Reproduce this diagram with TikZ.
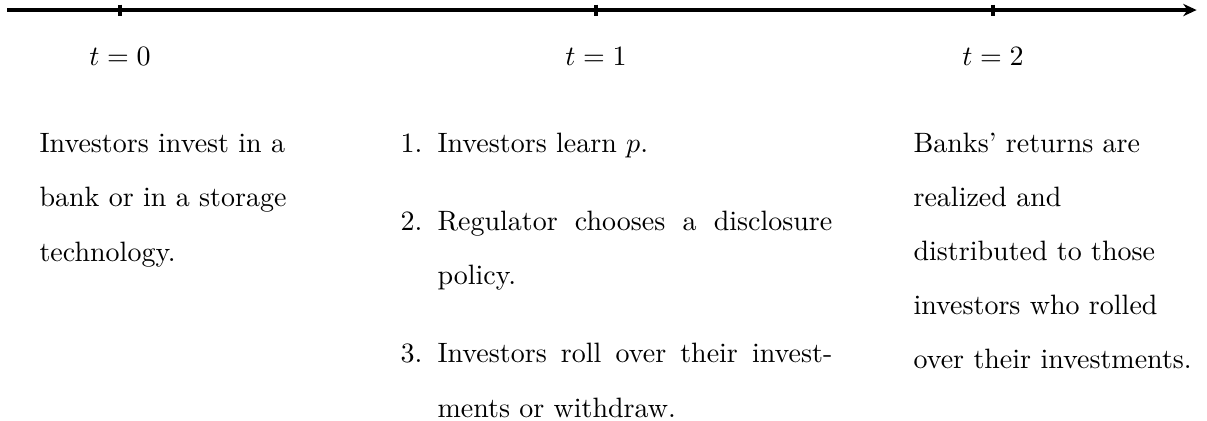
\documentclass[tikz,border=0pt]{standalone}
\usetikzlibrary{arrows.meta,positioning}
\begin{document}
\begin{tikzpicture}[every node/.style={inner sep=0pt},
  txt/.style={anchor=base west,text width=#1,align=flush left,font=\linespread{1.608}\selectfont},
  itm/.style={anchor=base west,text width=141pt,align=justify,font=\linespread{1.608}\selectfont}]
\useasboundingbox (0,0) rectangle (15.15,-5.284);
% time axis with three dates
\coordinate (start) at (0.088,-0.126);
\coordinate (end) at (15.02,-0.126);
\draw[very thick,-{Stealth[length=4.8pt,width=4.4pt]}] (start) -- (end);
\foreach \x/\n in {1.506/0,7.481/1,12.464/2} {\coordinate (t\n) at (\x,-0.126); \draw[very thick] ([yshift=0.069cm]t\n) -- ([yshift=-0.069cm]t\n);
  \node[anchor=base] (lab\n) at (\x,-0.816) {$t=\n$};}
% what happens at each date
\node[txt=100pt] (d0) at (0.490,-1.920) {Investors invest in a bank or in a storage technology.};
\node[itm] (s1) at (5.485,-1.908) {Investors learn $p$.};
\node[itm] (s2) at (5.485,-2.887) {Regulator chooses a disclosure policy.};
\node[itm] (s3) at (5.485,-4.556) {Investors roll over their investments or withdraw.};
\foreach \i in {1,2,3} {\node[base left=5pt of s\i] (n\i) {\i.};}
\node[txt=106pt] (d2) at (11.460,-1.908) {Banks' returns are realized and\\ distributed to those investors who rolled over their investments.};
\end{tikzpicture}
\end{document}
